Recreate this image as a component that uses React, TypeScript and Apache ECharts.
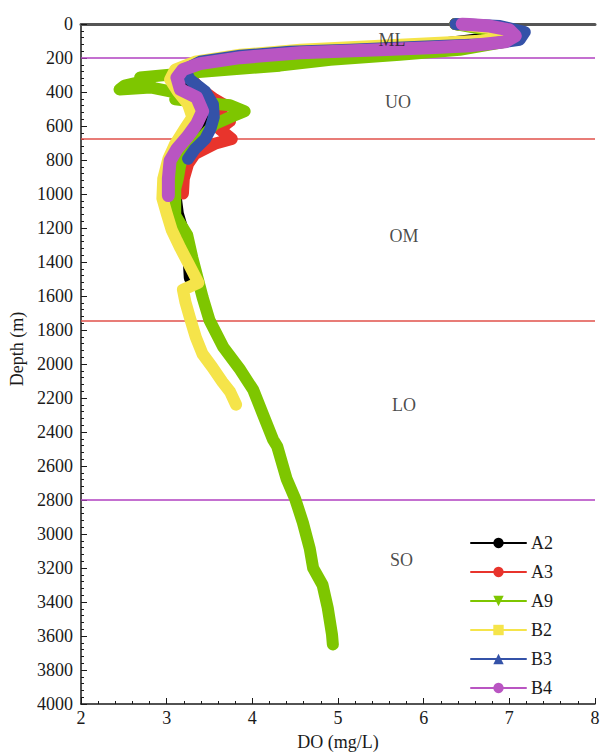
import React, { useEffect, useRef } from "react";
import * as echarts from "echarts";

// Dissolved-oxygen profiles per station: DO (mg/L) against depth (m)
const a2Do = [6.37, 6.6, 6.95, 7.03, 6.77, 6.19, 5.49, 4.79, 4.09, 3.56, 3.27, 3.27, 3.45, 3.5, 3.45, 3.33, 3.21, 3.13, 3.1, 3.13, 3.18, 3.23, 3.26, 3.27];
const a2Depth = [0, 12, 41, 70, 82, 117, 140, 169, 198, 233, 280, 356, 431, 513, 589, 676, 764, 880, 997, 1114, 1201, 1318, 1405, 1493];

const a3Do = [6.37, 7.0, 7.07, 6.66, 5.72, 4.56, 3.8, 3.33, 3.25, 3.37, 3.56, 3.68, 3.6, 3.74, 3.62, 3.76, 3.56, 3.33, 3.25, 3.2, 3.19];
const a3Depth = [0, 35, 82, 117, 140, 163, 192, 239, 297, 373, 443, 478, 513, 571, 618, 676, 705, 764, 822, 910, 997];

const a9Do = [6.37, 7.0, 6.95, 6.42, 5.72, 4.91, 4.32, 3.74, 3.16, 2.69, 2.81, 2.51, 2.45, 2.81, 3.04, 3.27, 3.1, 3.39, 3.74, 3.91, 3.74, 3.56, 3.45, 3.33, 3.21, 3.16, 3.13, 3.1, 3.1, 3.24, 3.3, 3.42, 3.5, 3.66, 3.86, 4.01, 4.12, 4.24, 4.29, 4.4, 4.5, 4.59, 4.67, 4.71, 4.82, 4.88, 4.93, 4.94];
const a9Depth = [0, 58, 105, 152, 181, 210, 245, 268, 292, 315, 327, 362, 385, 373, 397, 414, 443, 461, 478, 513, 548, 589, 647, 705, 764, 822, 910, 968, 1125, 1242, 1376, 1609, 1743, 1900, 2035, 2152, 2291, 2443, 2484, 2676, 2793, 2933, 3085, 3201, 3300, 3434, 3592, 3650];

const b2Do = [6.4, 6.95, 7.03, 6.66, 5.72, 4.56, 3.86, 3.33, 3.1, 3.04, 3.13, 3.25, 3.3, 3.21, 3.1, 3.02, 2.96, 2.95, 3.0, 3.06, 3.16, 3.25, 3.34, 3.37, 3.19, 3.22, 3.27, 3.34, 3.42, 3.53, 3.65, 3.74, 3.81];
const b2Depth = [0, 35, 70, 99, 122, 152, 181, 222, 268, 327, 397, 472, 548, 618, 705, 793, 910, 1026, 1114, 1213, 1318, 1405, 1493, 1522, 1563, 1638, 1726, 1843, 1942, 2017, 2105, 2163, 2239];

const b3Do = [6.37, 6.89, 7.18, 7.12, 6.77, 5.96, 5.14, 4.44, 3.86, 3.39, 3.21, 3.27, 3.45, 3.54, 3.55, 3.51, 3.45, 3.33, 3.25];
const b3Depth = [0, 12, 47, 93, 117, 134, 152, 163, 187, 222, 268, 327, 397, 472, 548, 618, 676, 735, 793];

const b4Do = [6.45, 6.77, 7.0, 7.07, 6.95, 6.54, 6.07, 5.49, 4.56, 3.86, 3.39, 3.19, 3.12, 3.16, 3.35, 3.42, 3.35, 3.24, 3.12, 3.04, 3.02, 3.02];
const b4Depth = [0, 12, 35, 70, 105, 128, 140, 152, 169, 198, 233, 268, 315, 385, 431, 513, 589, 665, 735, 805, 910, 1009];

const stationNames = ["A2", "A3", "A9", "B2", "B3", "B4"];
const stationColors = ["#000000", "#e8342c", "#7ec600", "#f5e44a", "#3452a8", "#b955c2"];
const stationSymbols = ["circle", "circle", "triangle", "rect", "triangle", "circle"];
const stationRotate = [0, 0, 180, 0, 0, 0];

// Water-mass layers: labels and boundary depths
const layerNames = ["ML", "UO", "OM", "LO", "SO"];
const layerLabelDo = [5.63, 5.7, 5.77, 5.77, 5.74];
const layerLabelDepth = [93, 460, 1248, 2239, 3155];
const boundaryDepths = [200, 675, 1745, 2800];
const boundaryColors = ["#b040c0", "#e0504a", "#e0504a", "#b040c0"];

const FONT = "'Liberation Serif', 'Times New Roman', serif";

const zip = (xs: number[], ys: number[]) => xs.map((x, i) => [x, ys[i]]);

export default function App() {
  const ref = useRef<HTMLDivElement>(null);

  useEffect(() => {
    if (!ref.current) return;
    const chart = echarts.init(ref.current, undefined, { renderer: "svg" });

    const profiles = [
      zip(a2Do, a2Depth),
      zip(a3Do, a3Depth),
      zip(a9Do, a9Depth),
      zip(b2Do, b2Depth),
      zip(b3Do, b3Depth),
      zip(b4Do, b4Depth),
    ];

    const lineSeries = stationNames.map((name, i) => ({
      name,
      type: "line",
      xAxisIndex: 0,
      yAxisIndex: 0,
      data: profiles[i],
      showSymbol: false,
      symbol: stationSymbols[i],
      symbolRotate: stationRotate[i],
      lineStyle: { color: stationColors[i], width: i === 5 ? 13 : 12, cap: "round", join: "round" },
      itemStyle: { color: stationColors[i] },
      silent: true,
      z: 2 + i,
    }));

    const axisText = { color: "#1a1a1a", fontFamily: FONT, fontSize: 18 };

    chart.setOption({
      animation: false,
      backgroundColor: "#ffffff",
      grid: { left: 81, top: 24, right: 14, bottom: 46 },
      legend: {
        orient: "vertical",
        left: 465,
        top: 529,
        itemWidth: 55,
        itemHeight: 13,
        itemGap: 11,
        data: stationNames,
        lineStyle: { width: 2 },
        textStyle: { ...axisText, padding: [0, 0, 0, 0] },
        selectedMode: false,
      },
      xAxis: [
        {
          type: "value",
          position: "bottom",
          min: 2,
          max: 8,
          interval: 1,
          name: "DO (mg/L)",
          nameLocation: "middle",
          nameGap: 29,
          nameTextStyle: axisText,
          axisLine: { onZero: false, lineStyle: { color: "#1a1a1a", width: 1.5 } },
          axisTick: { inside: true, length: 6, lineStyle: { color: "#1a1a1a" } },
          minorTick: { show: true, splitNumber: 5, length: 3, lineStyle: { color: "#1a1a1a" } },
          axisLabel: { ...axisText, margin: 5 },
          splitLine: { show: false },
        },
        {
          type: "value",
          position: "top",
          min: 2,
          max: 8,
          axisLine: { onZero: false, lineStyle: { color: "#555555", width: 3 } },
          axisTick: { show: false },
          axisLabel: { show: false },
          splitLine: { show: false },
        },
      ],
      yAxis: {
        type: "value",
        inverse: true,
        min: 0,
        max: 4000,
        interval: 200,
        name: "Depth (m)",
        nameLocation: "middle",
        nameGap: 50,
        nameTextStyle: { ...axisText, padding: [0, 0, 0, 30] },
        axisLine: { onZero: false, lineStyle: { color: "#1a1a1a", width: 1.5 } },
        axisTick: { inside: true, length: 6, lineStyle: { color: "#1a1a1a" } },
        minorTick: { show: true, splitNumber: 5, length: 3, lineStyle: { color: "#1a1a1a" } },
        axisLabel: { ...axisText, margin: 8, formatter: (v: number) => String(v) },
        splitLine: { show: false },
      },
      series: [
        {
          name: "layers",
          type: "scatter",
          data: layerNames.map((n, i) => [layerLabelDo[i], layerLabelDepth[i], n]),
          symbolSize: 0,
          silent: true,
          z: 20,
          label: {
            show: true,
            position: "inside",
            formatter: (p: any) => p.value[2],
            ...axisText,
          },
          markLine: {
            silent: true,
            symbol: "none",
            label: { show: false },
            z: 1,
            data: boundaryDepths.map((d, i) => ({
              yAxis: d,
              lineStyle: { color: boundaryColors[i], width: 1.5, type: "solid" },
            })),
          },
        },
        ...lineSeries,
      ],
    });

    return () => chart.dispose();
  }, []);

  return (
    <div
      ref={ref}
      style={{ position: "fixed", left: 0, top: 0, width: 609, height: 756, background: "#fff" }}
    />
  );
}
